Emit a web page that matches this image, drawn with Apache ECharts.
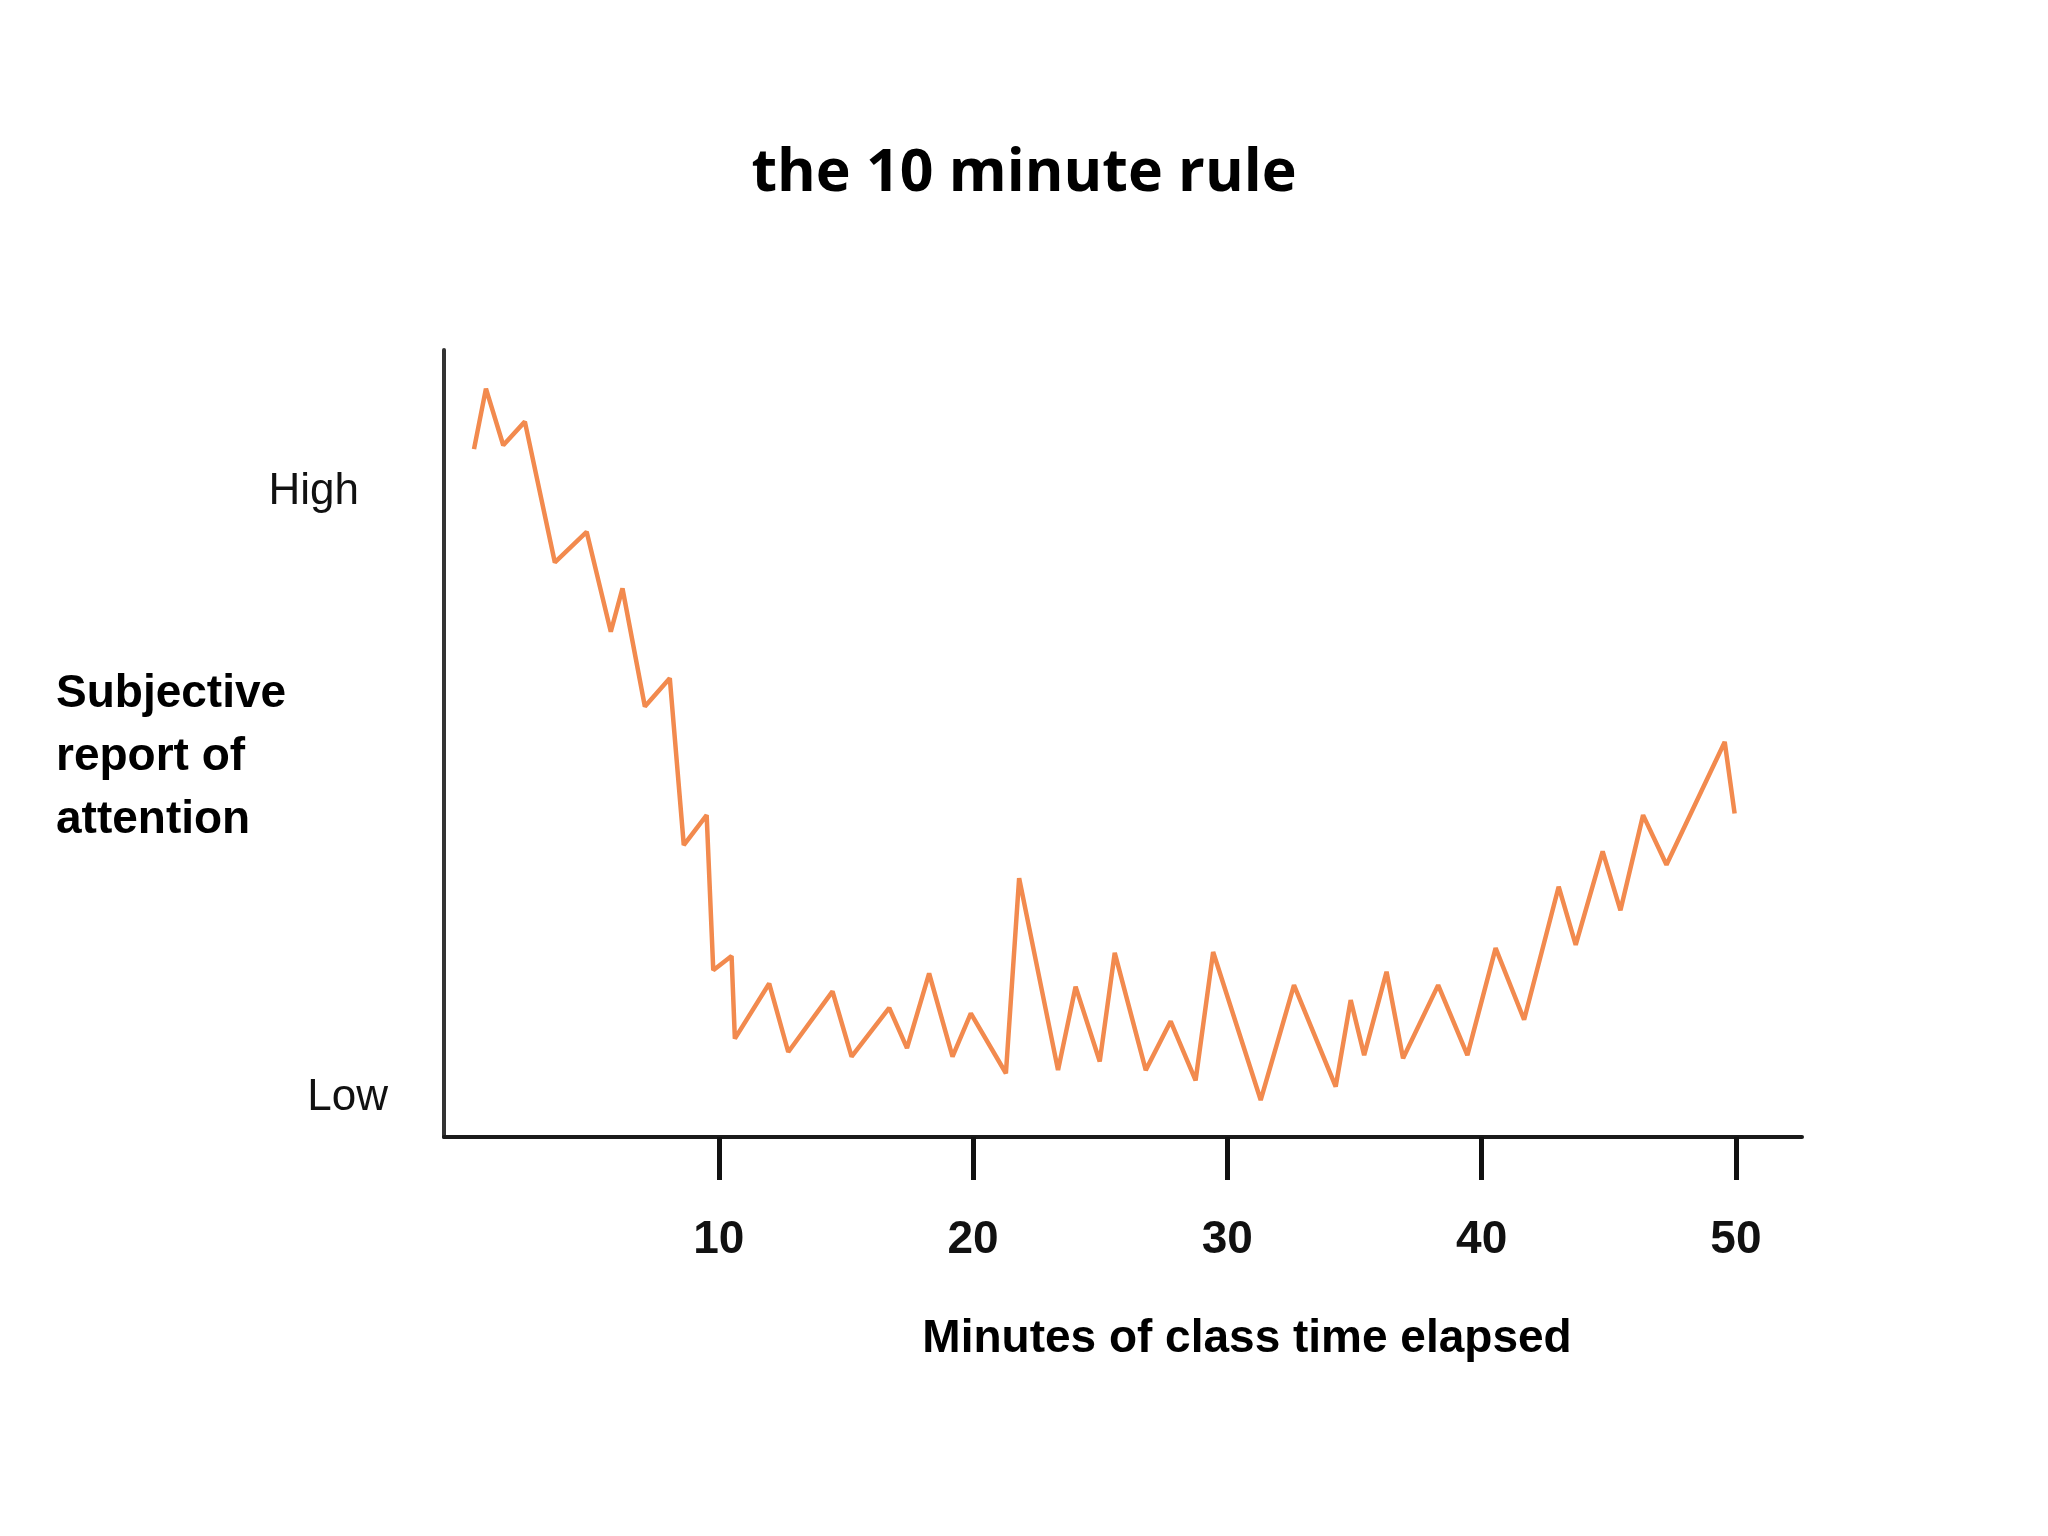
<!DOCTYPE html>
<html>
<head>
<meta charset="utf-8">
<script src="https://cdn.jsdelivr.net/npm/echarts@6/dist/echarts.min.js"></script>
<style>
html,body{margin:0;padding:0;background:#fff;}
#chart{width:2048px;height:1536px;}
</style>
</head>
<body>
<div id="chart"></div>
<script>
// Minutes of class time elapsed (x) and subjective attention (y, 0 = bottom of axis, 100 = top)
const minutes = [0.37,0.84,1.52,2.37,3.55,4.80,5.75,6.21,7.09,8.07,8.62,9.52,9.78,10.50,10.63,11.98,12.73,14.47,15.22,16.70,17.40,18.27,19.19,19.91,21.29,21.81,23.34,24.03,24.98,25.57,26.79,27.77,28.75,29.44,31.31,32.62,34.26,34.85,35.38,36.26,36.91,38.29,39.44,40.55,41.67,43.03,43.70,44.76,45.46,46.35,47.27,49.56,49.95];
const attention = [87.4,95.1,87.9,90.9,73.0,76.9,64.2,69.7,54.7,58.3,37.1,40.9,21.2,23.0,12.5,19.5,10.8,18.5,10.2,16.4,11.3,20.8,10.2,15.7,8.1,32.9,8.5,19.1,9.6,23.4,8.5,14.7,7.2,23.5,4.7,19.3,6.4,17.4,10.4,21.0,10.0,19.3,10.4,24.0,14.9,31.8,24.4,36.3,28.8,40.9,34.6,50.2,41.1];
const xTicks = [10,20,30,40,50];
const yTickValues = [5,82];
const yTickLabels = ['Low','High'];
const yNameLines = ['Subjective','report of','attention'];

const chart = echarts.init(document.getElementById('chart'), null, {renderer:'canvas'});
const data = minutes.map((m,i)=>[m, attention[i]]);

chart.setOption({
  backgroundColor:'#ffffff',
  animation:false,
  title:{
    text:'the 10 minute rule',
    left:'center',
    top:140,
    textStyle:{fontFamily:'Open Sans',fontWeight:700,fontSize:59,color:'#000'}
  },
  grid:{left:444,top:350,right:246,bottom:399,containLabel:false},
  xAxis:{
    type:'value',
    min:-0.81,
    max:52.6,
    name:'Minutes of class time elapsed',
    nameLocation:'middle',
    nameGap:179,
    nameTextStyle:{fontFamily:'Liberation Sans',fontWeight:'bold',fontSize:46,color:'#000',padding:[0,0,0,248]},
    axisLine:{show:true,onZero:false,lineStyle:{color:'#1a1a1a',width:4}},
    axisTick:{show:true,customValues:xTicks,length:43,inside:false,lineStyle:{color:'#111',width:5}},
    axisLabel:{show:true,customValues:xTicks,margin:80,fontFamily:'Liberation Sans',fontWeight:'bold',fontSize:46,color:'#111'},
    splitLine:{show:false}
  },
  yAxis:{
    type:'value',
    min:0,
    max:100,
    name:'{s| }\n' + yNameLines.map(t=>'{n|'+t+'}').join('\n'),
    nameLocation:'middle',
    nameRotate:0,
    nameGap:388,
    nameMoveOverlap:false,
    nameTextStyle:{
      fontFamily:'Liberation Sans',fontWeight:'bold',fontSize:46,lineHeight:63,color:'#000',align:'left',
      rich:{
        s:{fontSize:10,lineHeight:28},
        n:{fontFamily:'Liberation Sans',fontWeight:'bold',fontSize:46,lineHeight:63,color:'#000'}
      }
    },
    axisLine:{show:true,onZero:false,lineStyle:{color:'#333',width:4}},
    axisTick:{show:false},
    axisLabel:{
      show:true,
      customValues:yTickValues,
      margin:56,
      fontFamily:'Liberation Sans',
      fontSize:44,
      color:'#111',
      formatter:function(v){
        const i = yTickValues.indexOf(v);
        const t = i>=0 ? yTickLabels[i] : '';
        return t==='High' ? '{h|'+t+'}' : '{l|'+t+'}';
      },
      rich:{
        h:{fontFamily:'Liberation Sans',fontSize:44,color:'#111',padding:[0,29,0,0]},
        l:{fontFamily:'Liberation Sans',fontSize:44,color:'#111'}
      }
    },
    splitLine:{show:false}
  },
  series:[{
    type:'line',
    data:data,
    showSymbol:false,
    symbol:'none',
    lineStyle:{color:'#F28A4E',width:4.5},
    itemStyle:{color:'#F28A4E'}
  }]
});
</script>
</body>
</html>
